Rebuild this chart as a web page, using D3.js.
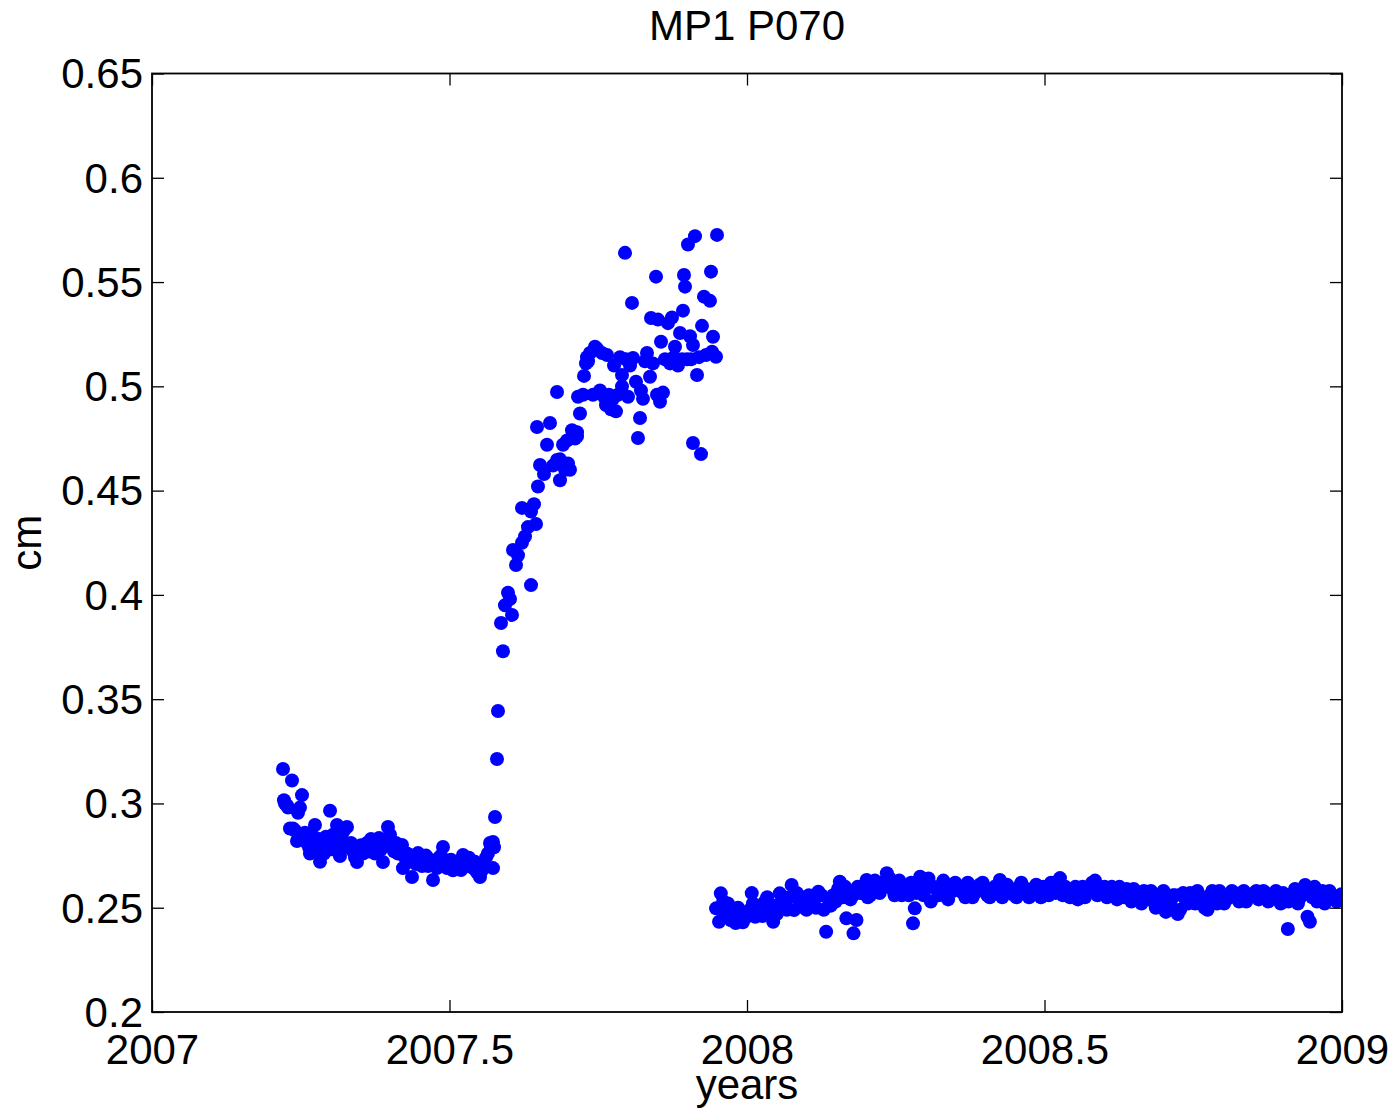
<!DOCTYPE html>
<html>
<head>
<meta charset="utf-8">
<script src="https://cdn.jsdelivr.net/npm/d3@7"></script>
<style>
  html, body { margin: 0; padding: 0; background: #fff; }
  svg { display: block; }
  text { font-family: "Liberation Sans", Arial, Helvetica, sans-serif; fill: #000; }
</style>
</head>
<body>
<svg id="chart" width="1397" height="1112"></svg>
<script>
// GPS vertical displacement series for station P070 (decimal year, cm)
const titleText = "MP1 P070";
const xLabel = "years";
const yLabel = "cm";
const xTicks = [2007, 2007.5, 2008, 2008.5, 2009];
const xTickLabels = ["2007", "2007.5", "2008", "2008.5", "2009"];
const yTicks = [0.2, 0.25, 0.3, 0.35, 0.4, 0.45, 0.5, 0.55, 0.6, 0.65];
const yTickLabels = ["0.2", "0.25", "0.3", "0.35", "0.4", "0.45", "0.5", "0.55", "0.6", "0.65"];

// first segment: quiet period, rapid rise, elevated plateau
const seg1Year = [
  2007.2202, 2007.2218, 2007.2235, 2007.2269, 2007.2286, 2007.2319, 2007.2353, 2007.2370, 2007.2403, 2007.2437,
  2007.2454, 2007.2487, 2007.2521, 2007.2538, 2007.2571, 2007.2605, 2007.2639, 2007.2655, 2007.2689, 2007.2723,
  2007.2739, 2007.2773, 2007.2807, 2007.2824, 2007.2857, 2007.2891, 2007.2924, 2007.2958, 2007.2992, 2007.3008,
  2007.3042, 2007.3076, 2007.3109, 2007.3143, 2007.3160, 2007.3193, 2007.3227, 2007.3261, 2007.3277, 2007.3311,
  2007.3345, 2007.3378, 2007.3412, 2007.3445, 2007.3479, 2007.3513, 2007.3546, 2007.3580, 2007.3613, 2007.3647,
  2007.3681, 2007.3714, 2007.3748, 2007.3782, 2007.3815, 2007.3849, 2007.3882, 2007.3916, 2007.3966, 2007.4000,
  2007.4034, 2007.4067, 2007.4101, 2007.4134, 2007.4168, 2007.4202, 2007.4218, 2007.4252, 2007.4286, 2007.4319,
  2007.4353, 2007.4370, 2007.4403, 2007.4437, 2007.4471, 2007.4504, 2007.4538, 2007.4571, 2007.4605, 2007.4639,
  2007.4672, 2007.4723, 2007.4756, 2007.4790, 2007.4824, 2007.4857, 2007.4891, 2007.4924, 2007.4958, 2007.4992,
  2007.5025, 2007.5059, 2007.5092, 2007.5126, 2007.5160, 2007.5193, 2007.5227, 2007.5261, 2007.5294, 2007.5328,
  2007.5361, 2007.5395, 2007.5429, 2007.5462, 2007.5496, 2007.5513, 2007.5546, 2007.5580, 2007.5613, 2007.5647,
  2007.5681, 2007.5697, 2007.5731, 2007.5731, 2007.5748, 2007.5765, 2007.5798, 2007.5815, 2007.5866, 2007.5899,
  2007.5933, 2007.5983, 2007.6017, 2007.6050, 2007.6067, 2007.6118, 2007.6151, 2007.6218, 2007.6218, 2007.6269,
  2007.6319, 2007.6370, 2007.6370, 2007.6420, 2007.6454, 2007.6487, 2007.6521, 2007.6588, 2007.6639, 2007.6689,
  2007.6471, 2007.6739, 2007.6807, 2007.6807, 2007.6857, 2007.6857, 2007.6908, 2007.6941, 2007.6975, 2007.6992,
  2007.7025, 2007.7059, 2007.7109, 2007.7143, 2007.7143, 2007.7160, 2007.7193, 2007.7244, 2007.7261, 2007.7294,
  2007.7311, 2007.7328, 2007.7361, 2007.7412, 2007.7445, 2007.7479, 2007.7529, 2007.7563, 2007.7597, 2007.7630,
  2007.7647, 2007.7681, 2007.7714, 2007.7748, 2007.7765, 2007.7798, 2007.7832, 2007.7866, 2007.7899, 2007.7899,
  2007.7950, 2007.7966, 2007.8000, 2007.8034, 2007.8067, 2007.8084, 2007.8134, 2007.8168, 2007.8202, 2007.8218,
  2007.8252, 2007.8286, 2007.8319, 2007.8370, 2007.8387, 2007.8420, 2007.8471, 2007.8487, 2007.8504, 2007.8538,
  2007.8555, 2007.8588, 2007.8622, 2007.8672, 2007.8706, 2007.8739, 2007.8773, 2007.8790, 2007.8840, 2007.8874,
  2007.8908, 2007.8924, 2007.8941, 2007.8958, 2007.8992, 2007.9008, 2007.9042, 2007.9059, 2007.9092, 2007.9092,
  2007.9126, 2007.9160, 2007.9193, 2007.9227, 2007.9244, 2007.9277, 2007.9311, 2007.9378, 2007.9395, 2007.9412,
  2007.9429, 2007.9479, 2007.9496
];
const seg1Cm = [
  0.3165, 0.3015, 0.3000, 0.2990, 0.2980, 0.2880, 0.3110, 0.2880, 0.2870, 0.2820,
  0.2955, 0.2980, 0.3040, 0.2840, 0.2860, 0.2810, 0.2790, 0.2760, 0.2850, 0.2800,
  0.2897, 0.2770, 0.2830, 0.2720, 0.2790, 0.2760, 0.2840, 0.2810, 0.2965, 0.2780,
  0.2850, 0.2800, 0.2897, 0.2760, 0.2748, 0.2830, 0.2870, 0.2800, 0.2887, 0.2790,
  0.2810, 0.2770, 0.2740, 0.2719, 0.2780, 0.2800, 0.2760, 0.2790, 0.2810, 0.2770,
  0.2830, 0.2790, 0.2760, 0.2800, 0.2834, 0.2780, 0.2719, 0.2800, 0.2887, 0.2850,
  0.2800, 0.2770, 0.2810, 0.2760, 0.2790, 0.2801, 0.2690, 0.2740, 0.2760, 0.2720,
  0.2750, 0.2647, 0.2730, 0.2710, 0.2762, 0.2740, 0.2700, 0.2720, 0.2750, 0.2700,
  0.2730, 0.2633, 0.2710, 0.2690, 0.2740, 0.2750, 0.2791, 0.2720, 0.2690, 0.2710,
  0.2730, 0.2680, 0.2700, 0.2720, 0.2690, 0.2681, 0.2753, 0.2720, 0.2700, 0.2740,
  0.2710, 0.2690, 0.2720, 0.2670, 0.2660, 0.2647, 0.2680, 0.2700, 0.2740, 0.2760,
  0.2810, 0.2790, 0.2690, 0.2815, 0.2790, 0.2935, 0.3213, 0.3443, 0.3865, 0.3730,
  0.3950, 0.4010, 0.3980, 0.3904, 0.4215, 0.4143, 0.4190, 0.4250, 0.4417, 0.4280,
  0.4325, 0.4047, 0.4400, 0.4435, 0.4340, 0.4520, 0.4623, 0.4580, 0.4720, 0.4824,
  0.4805, 0.4620, 0.4647, 0.4973, 0.4650, 0.4550, 0.4720, 0.4600, 0.4740, 0.4630,
  0.4600, 0.4790, 0.4750, 0.4780, 0.4760, 0.4950, 0.4870, 0.4960, 0.5050, 0.5110,
  0.5140, 0.5120, 0.5160, 0.4960, 0.5190, 0.5180, 0.4980, 0.5160, 0.4950, 0.4910,
  0.5150, 0.4960, 0.4890, 0.4940, 0.5100, 0.4880, 0.4960, 0.5140, 0.5054, 0.5000,
  0.5640, 0.5130, 0.4950, 0.5100, 0.5400, 0.5136, 0.5022, 0.4752, 0.4848, 0.4980,
  0.4940, 0.5120, 0.5160, 0.5046, 0.5328, 0.5110, 0.5526, 0.4960, 0.5320, 0.4926,
  0.5214, 0.4970, 0.5130, 0.5303, 0.5110, 0.5330, 0.5140, 0.5190, 0.5100, 0.5256,
  0.5130, 0.5363, 0.5534, 0.5478, 0.5130, 0.5680, 0.5240, 0.5130, 0.5198, 0.4728,
  0.5720, 0.5054, 0.5140, 0.4675, 0.5290, 0.5430, 0.5150, 0.5410, 0.5550, 0.5166,
  0.5238, 0.5142, 0.5726
];

// second segment: after the data gap, slowly varying level
const seg2Year = [
  2007.948, 2007.953, 2007.956, 2007.960, 2007.964, 2007.973, 2007.981, 2007.989, 2007.997, 2008.005,
  2008.008, 2008.014, 2008.022, 2008.030, 2008.038, 2008.044, 2008.046, 2008.055, 2008.063, 2008.071,
  2008.075, 2008.079, 2008.088, 2008.096, 2008.104, 2008.112, 2008.120, 2008.129, 2008.133, 2008.137,
  2008.145, 2008.153, 2008.156, 2008.161, 2008.167, 2008.170, 2008.178, 2008.179, 2008.184, 2008.186,
  2008.194, 2008.201, 2008.203, 2008.211, 2008.219, 2008.227, 2008.235, 2008.244, 2008.252, 2008.260,
  2008.268, 2008.276, 2008.279, 2008.282, 2008.285, 2008.291, 2008.293, 2008.301, 2008.309, 2008.318,
  2008.326, 2008.334, 2008.342, 2008.350, 2008.359, 2008.367, 2008.375, 2008.383, 2008.391, 2008.400,
  2008.408, 2008.416, 2008.425, 2008.433, 2008.441, 2008.449, 2008.457, 2008.465, 2008.474, 2008.482,
  2008.490, 2008.498, 2008.507, 2008.515, 2008.523, 2008.526, 2008.531, 2008.539, 2008.548, 2008.556,
  2008.564, 2008.572, 2008.580, 2008.589, 2008.597, 2008.605, 2008.613, 2008.622, 2008.630, 2008.638,
  2008.646, 2008.654, 2008.663, 2008.671, 2008.679, 2008.687, 2008.696, 2008.704, 2008.712, 2008.720,
  2008.728, 2008.737, 2008.745, 2008.753, 2008.761, 2008.769, 2008.778, 2008.786, 2008.794, 2008.802,
  2008.811, 2008.819, 2008.827, 2008.835, 2008.843, 2008.852, 2008.860, 2008.868, 2008.876, 2008.884,
  2008.893, 2008.901, 2008.909, 2008.910, 2008.917, 2008.926, 2008.934, 2008.938, 2008.942, 2008.946,
  2008.950, 2008.958, 2008.967, 2008.975, 2008.983, 2008.991, 2008.999
];
const seg2Cm = [
  0.2497, 0.2433, 0.2569, 0.2530, 0.2470, 0.2440, 0.2427, 0.2473, 0.2450, 0.2490,
  0.2570, 0.2457, 0.2500, 0.2529, 0.2480, 0.2433, 0.2510, 0.2569, 0.2520, 0.2550,
  0.2609, 0.2489, 0.2540, 0.2500, 0.2560, 0.2530, 0.2577, 0.2490, 0.2385, 0.2540,
  0.2560, 0.2590, 0.2625, 0.2550, 0.2449, 0.2580, 0.2560, 0.2377, 0.2441, 0.2600,
  0.2570, 0.2633, 0.2550, 0.2600, 0.2580, 0.2620, 0.2665, 0.2590, 0.2610, 0.2560,
  0.2600, 0.2620, 0.2425, 0.2497, 0.2570, 0.2649, 0.2580, 0.2620, 0.2530, 0.2590,
  0.2605, 0.2560, 0.2590, 0.2620, 0.2580, 0.2550, 0.2600, 0.2570, 0.2610, 0.2580,
  0.2550, 0.2600, 0.2633, 0.2570, 0.2590, 0.2560, 0.2600, 0.2580, 0.2550, 0.2590,
  0.2570, 0.2600, 0.2560, 0.2580, 0.2610, 0.2642, 0.2560, 0.2590, 0.2570, 0.2540,
  0.2600, 0.2580, 0.2620, 0.2560, 0.2590, 0.2550, 0.2600, 0.2540, 0.2570, 0.2590,
  0.2530, 0.2560, 0.2520, 0.2560, 0.2580, 0.2500, 0.2550, 0.2480, 0.2530, 0.2560,
  0.2490, 0.2540, 0.2570, 0.2520, 0.2550, 0.2500, 0.2560, 0.2540, 0.2580, 0.2520,
  0.2550, 0.2570, 0.2530, 0.2580, 0.2550, 0.2570, 0.2540, 0.2580, 0.2530, 0.2560,
  0.2540, 0.2570, 0.2398, 0.2530, 0.2560, 0.2520, 0.2580, 0.2609, 0.2457, 0.2433,
  0.2550, 0.2530, 0.2580, 0.2540, 0.2560, 0.2530, 0.2565
];

// second segment, in-between days: [decimal year, cm]
const seg2Between = [
  [2007.968, 0.2520], [2007.977, 0.2460], [2007.985, 0.2500], [2007.993, 0.2430], [2008.001, 0.2470],
  [2008.010, 0.2520], [2008.018, 0.2480], [2008.026, 0.2460], [2008.034, 0.2550], [2008.042, 0.2500],
  [2008.050, 0.2470], [2008.059, 0.2530], [2008.067, 0.2490], [2008.084, 0.2570], [2008.092, 0.2530],
  [2008.100, 0.2490], [2008.108, 0.2540], [2008.116, 0.2500], [2008.125, 0.2560], [2008.141, 0.2510],
  [2008.149, 0.2530], [2008.165, 0.2600], [2008.174, 0.2540], [2008.190, 0.2570], [2008.198, 0.2610],
  [2008.207, 0.2560], [2008.215, 0.2630], [2008.223, 0.2570], [2008.231, 0.2600], [2008.240, 0.2640],
  [2008.248, 0.2560], [2008.256, 0.2630], [2008.264, 0.2580], [2008.272, 0.2560], [2008.289, 0.2610],
  [2008.297, 0.2560], [2008.305, 0.2640], [2008.313, 0.2600], [2008.322, 0.2560], [2008.330, 0.2630],
  [2008.338, 0.2540], [2008.346, 0.2580], [2008.355, 0.2600], [2008.363, 0.2570], [2008.371, 0.2620],
  [2008.379, 0.2550], [2008.387, 0.2590], [2008.396, 0.2620], [2008.404, 0.2560], [2008.412, 0.2590],
  [2008.420, 0.2570], [2008.429, 0.2550], [2008.437, 0.2610], [2008.445, 0.2580], [2008.453, 0.2550],
  [2008.461, 0.2620], [2008.470, 0.2590], [2008.478, 0.2560], [2008.486, 0.2610], [2008.494, 0.2550],
  [2008.503, 0.2590], [2008.511, 0.2620], [2008.519, 0.2570], [2008.535, 0.2600], [2008.543, 0.2550],
  [2008.552, 0.2600], [2008.560, 0.2570], [2008.568, 0.2550], [2008.576, 0.2590], [2008.585, 0.2630],
  [2008.593, 0.2570], [2008.601, 0.2600], [2008.609, 0.2570], [2008.617, 0.2580], [2008.626, 0.2600],
  [2008.634, 0.2550], [2008.642, 0.2570], [2008.650, 0.2590], [2008.659, 0.2550], [2008.667, 0.2580],
  [2008.675, 0.2540], [2008.683, 0.2560], [2008.691, 0.2530], [2008.700, 0.2580], [2008.708, 0.2510],
  [2008.716, 0.2560], [2008.724, 0.2470], [2008.733, 0.2570], [2008.741, 0.2520], [2008.749, 0.2550],
  [2008.757, 0.2580], [2008.765, 0.2530], [2008.774, 0.2490], [2008.782, 0.2580], [2008.790, 0.2520],
  [2008.798, 0.2560], [2008.806, 0.2540], [2008.815, 0.2580], [2008.823, 0.2550], [2008.831, 0.2570],
  [2008.839, 0.2530], [2008.848, 0.2560], [2008.856, 0.2580], [2008.864, 0.2550], [2008.872, 0.2570],
  [2008.880, 0.2540], [2008.889, 0.2580], [2008.897, 0.2520], [2008.905, 0.2560], [2008.921, 0.2590],
  [2008.930, 0.2550], [2008.954, 0.2600], [2008.962, 0.2560], [2008.971, 0.2520], [2008.979, 0.2580],
  [2008.987, 0.2550], [2008.995, 0.2540]
];

const svg = d3.select("#chart");
const margin = { left: 152, top: 73.5, right: 1342, bottom: 1012 };

const x = d3.scaleLinear().domain([2007, 2009]).range([margin.left, margin.right]);
const y = d3.scaleLinear().domain([0.2, 0.65]).range([margin.bottom, margin.top]);

const points = seg1Year.map((t, i) => ({ t, v: seg1Cm[i] }))
  .concat(seg2Year.map((t, i) => ({ t, v: seg2Cm[i] })))
  .concat(seg2Between.map(([t, v]) => ({ t, v })));

const plotW = margin.right - margin.left;
const plotH = margin.bottom - margin.top;
const tickLen = 12;
const fontSize = 42;

// clip markers to the axes box
svg.append("defs").append("clipPath").attr("id", "plotClip")
  .append("rect").attr("x", margin.left).attr("y", margin.top)
  .attr("width", plotW).attr("height", plotH);

// markers
svg.append("g").attr("clip-path", "url(#plotClip)")
  .selectAll("circle").data(points).join("circle")
  .attr("cx", d => x(d.t))
  .attr("cy", d => y(d.v))
  .attr("r", 7)
  .attr("fill", "#0000ff");

// axes: inward ticks on all four sides
const axisBottom = d3.axisBottom(x).tickValues(xTicks)
  .tickFormat((d, i) => xTickLabels[i]).tickSizeInner(-tickLen).tickSizeOuter(0).tickPadding(22);
const axisTop = d3.axisTop(x).tickValues(xTicks).tickFormat("").tickSizeInner(-tickLen).tickSizeOuter(0);
const axisLeft = d3.axisLeft(y).tickValues(yTicks)
  .tickFormat((d, i) => yTickLabels[i]).tickSizeInner(-tickLen).tickSizeOuter(0).tickPadding(9);
const axisRight = d3.axisRight(y).tickValues(yTicks).tickFormat("").tickSizeInner(-tickLen).tickSizeOuter(0);

function styleAxis(g) {
  g.select(".domain").remove();
  g.selectAll(".tick line").attr("stroke", "#000").attr("stroke-width", 1.3);
  g.selectAll(".tick text").attr("font-size", fontSize)
    .attr("font-family", "'Liberation Sans', Arial, sans-serif").attr("fill", "#000");
}

svg.append("g").attr("transform", `translate(0,${margin.bottom})`).call(axisBottom).call(styleAxis)
  .selectAll(".tick text").attr("dy", "0.71em");
svg.append("g").attr("transform", `translate(0,${margin.top})`).call(axisTop).call(styleAxis);
svg.append("g").attr("transform", `translate(${margin.left},0)`).call(axisLeft).call(styleAxis)
  .selectAll(".tick text").attr("dy", "0.34em");
svg.append("g").attr("transform", `translate(${margin.right},0)`).call(axisRight).call(styleAxis);

// axes box
svg.append("rect")
  .attr("x", margin.left).attr("y", margin.top)
  .attr("width", plotW).attr("height", plotH)
  .attr("fill", "none").attr("stroke", "#000").attr("stroke-width", 1.8);

// title and axis labels
svg.append("text")
  .attr("x", (margin.left + margin.right) / 2).attr("y", 40)
  .attr("text-anchor", "middle").attr("font-size", fontSize)
  .text(titleText);

svg.append("text")
  .attr("x", (margin.left + margin.right) / 2).attr("y", 1099)
  .attr("text-anchor", "middle").attr("font-size", fontSize)
  .text(xLabel);

svg.append("text")
  .attr("transform", `translate(41,${(margin.top + margin.bottom) / 2}) rotate(-90)`)
  .attr("text-anchor", "middle").attr("font-size", fontSize)
  .text(yLabel);
</script>
</body>
</html>
